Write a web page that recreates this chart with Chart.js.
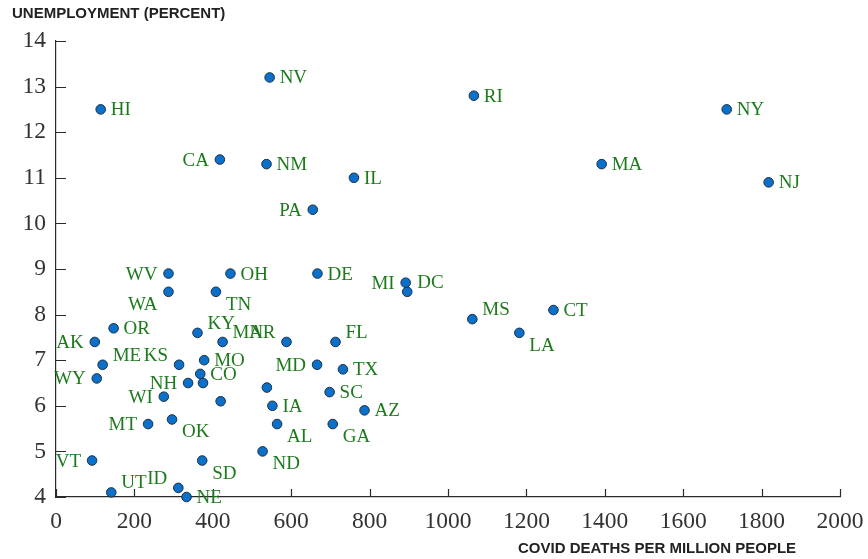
<!DOCTYPE html>
<html>
<head>
<meta charset="utf-8">
<script src="https://cdn.jsdelivr.net/npm/chart.js@4"></script>
<style>
  html, body { margin: 0; padding: 0; background: #fff; }
  #wrap { width: 868px; height: 559px; position: relative; }
</style>
</head>
<body>
<div id="wrap"><canvas id="c" width="868" height="559"></canvas></div>
<script>
// ---- Data ----
const states = ["HI","NV","RI","NY","CA","NM","IL","MA","NJ","PA",
  "WV","OH","DE","MI","DC","WA","TN","OR","KY","MN",
  "AR","FL","AK","ME","KS","MO","MD","TX","WY","CO",
  "NH","WI","MT","OK","VT","SD","UT","ID","NE","SC",
  "IA","AZ","AL","GA","ND","MS","CT","LA","IN","VA","NC"];
const covidDeathsPerMillion = [114,545,1066,1711,418,537,760,1392,1818,655,
  287,445,667,892,896,287,408,147,361,425,
  588,713,99,119,314,378,666,732,104,368,
  337,275,235,296,92,373,141,312,333,698,
  552,787,564,706,527,1062,1269,1182,375,538,420];
const unemploymentPct = [12.5,13.2,12.8,12.5,11.4,11.3,11.0,11.3,10.9,10.3,
  8.9,8.9,8.9,8.7,8.5,8.5,8.5,7.7,7.6,7.4,
  7.4,7.4,7.4,6.9,6.9,7.0,6.9,6.8,6.6,6.7,
  6.5,6.2,5.6,5.7,4.8,4.8,4.1,4.2,4.0,6.3,
  6.0,5.9,5.6,5.6,5.0,7.9,8.1,7.6,6.5,6.4,6.1];
// label placement relative to the dot: r, l, ur, ul, dr, dl, or "" for none
const labelPlacement = ["r","r","r","r","l","r","r","r","r","l",
  "l","r","r","l","ur","dl","dr","r","ur","ur",
  "ul","ur","l","ur","ul","r","l","r","l","r",
  "l","l","l","dr","l","dr","ur","ul","r","r",
  "r","r","dr","dr","dr","ur","r","dr","","",""];
const xTicks = [0,200,400,600,800,1000,1200,1400,1600,1800,2000];
const yTicks = [4,5,6,7,8,9,10,11,12,13,14];
const xTitle = "COVID DEATHS PER MILLION PEOPLE";
const yTitle = "UNEMPLOYMENT (PERCENT)";

const points = states.map((s, i) => ({ x: covidDeathsPerMillion[i], y: unemploymentPct[i], s: s, p: labelPlacement[i] }));

const AXIS_COLOR = '#2a2a2a';
const TICK_FONT = { family: "'Liberation Serif','Times New Roman',serif", size: 23.5 };

const decorPlugin = {
  id: 'decor',
  afterDatasetsDraw(chart) {
    const ctx = chart.ctx;
    const xs = chart.scales.x, ys = chart.scales.y;
    const area = chart.chartArea;
    ctx.save();
    // inward tick marks
    ctx.strokeStyle = AXIS_COLOR;
    ctx.lineWidth = 1.2;
    ctx.beginPath();
    yTicks.forEach(v => {
      const py = Math.round(ys.getPixelForValue(v)) + 0.5;
      ctx.moveTo(area.left, py); ctx.lineTo(area.left + 10, py);
    });
    xTicks.forEach(v => {
      const px = Math.round(xs.getPixelForValue(v)) + 0.5;
      ctx.moveTo(px, area.bottom); ctx.lineTo(px, area.bottom - 8);
    });
    ctx.stroke();

    // state labels
    ctx.fillStyle = '#1c7a1c';
    ctx.font = "19px 'Liberation Serif','Times New Roman',serif";
    ctx.textBaseline = 'middle';
    const meta = chart.getDatasetMeta(0);
    meta.data.forEach((el, i) => {
      const d = points[i];
      if (!d.p) return;
      let dx = 0, dy = 0, align = 'left';
      if (d.p.includes('r')) { dx = 10; align = 'left'; }
      if (d.p.includes('l')) { dx = -11; align = 'right'; }
      if (d.p[0] === 'u') dy = -10;
      if (d.p[0] === 'd') dy = 12;
      ctx.textAlign = align;
      ctx.fillText(d.s, el.x + dx, el.y + dy + 1);
    });

    // axis titles
    ctx.fillStyle = '#222';
    ctx.font = "bold 15px 'Liberation Sans',Arial,sans-serif";
    ctx.textAlign = 'left';
    ctx.textBaseline = 'alphabetic';
    ctx.fillText(yTitle, 12, 18);
    ctx.fillText(xTitle, 518, 553);
    ctx.restore();
  }
};

new Chart(document.getElementById('c'), {
  type: 'scatter',
  data: {
    datasets: [{
      data: points,
      backgroundColor: '#0b70c9',
      borderColor: '#1b2f45',
      borderWidth: 1,
      pointRadius: 4.8,
      pointHoverRadius: 4.8,
      clip: false
    }]
  },
  options: {
    responsive: false,
    animation: false,
    events: [],
    layout: { padding: { top: 41, right: 28, left: 0, bottom: 0 } },
    plugins: { legend: { display: false }, tooltip: { enabled: false }, title: { display: false } },
    scales: {
      x: {
        type: 'linear', min: 0, max: 2000,
        afterBuildTicks: s => { s.ticks = xTicks.map(v => ({ value: v })); },
        afterFit: s => { s.height = 62; s.paddingLeft = 0; s.paddingRight = 0; },
        grid: { display: false, drawTicks: false },
        border: { display: true, color: AXIS_COLOR, width: 1.2 },
        ticks: { color: '#333', font: TICK_FONT, padding: 11, maxRotation: 0, autoSkip: false,
                 callback: v => String(v) }
      },
      y: {
        type: 'linear', min: 4, max: 14,
        afterBuildTicks: s => { s.ticks = yTicks.map(v => ({ value: v })); },
        afterFit: s => { s.width = 56; s.paddingTop = 0; s.paddingBottom = 0; },
        grid: { display: false, drawTicks: false },
        border: { display: true, color: AXIS_COLOR, width: 1.2 },
        ticks: { color: '#333', font: TICK_FONT, padding: 10, autoSkip: false,
                 callback: v => String(v) }
      }
    }
  },
  plugins: [decorPlugin]
});
</script>
</body>
</html>
